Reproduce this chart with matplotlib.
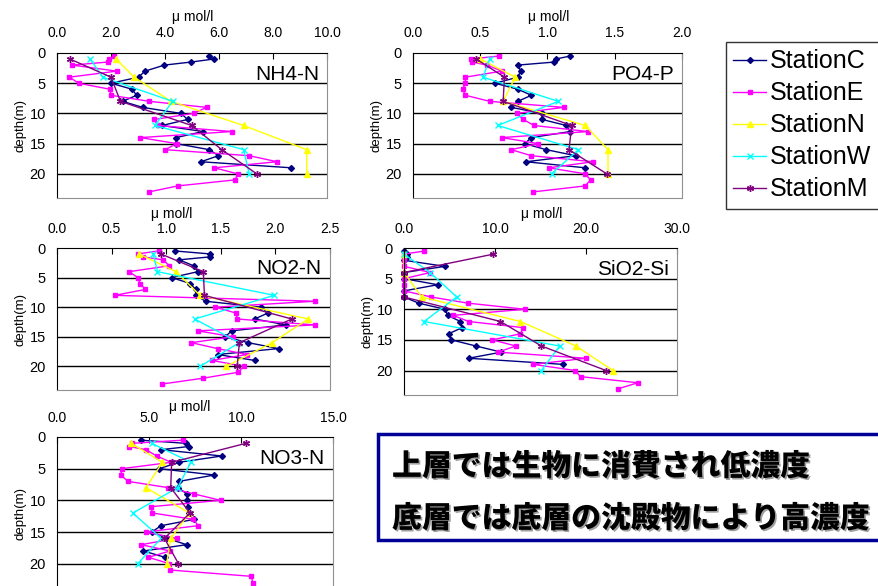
import matplotlib
matplotlib.use("Agg")
import matplotlib.pyplot as plt
import matplotlib.patheffects as pe
from matplotlib.patches import Rectangle
from matplotlib.ticker import FormatStrFormatter

plt.rcParams['font.family'] = ['Liberation Sans', 'DejaVu Sans']

# depths (m)
depth_C = [0.5, 1, 1.5, 2, 3, 4, 5, 6, 7, 8, 9, 10, 11, 12, 13, 14, 15, 16, 17, 18, 19]
depth_E = [0.5, 1, 1.5, 2, 3, 4, 5, 6, 7, 8, 9, 10, 11, 12, 13, 14, 15, 16, 17, 18, 19, 20, 21, 22, 23]
depth_NWM = [1, 4, 8, 12, 16, 20]

stations = ['StationC', 'StationE', 'StationN', 'StationW', 'StationM']

# NH4-N
nh4_C = [5.64, 5.8, 4.96, 3.98, 3.26, 3.02, 2.0, 2.78, 2.95, 2.43, 3.17, 4.59, 4.84, 3.89, 5.41, 4.41, 4.41, 5.64, 5.98, 5.33, 8.67]
nh4_E = [2.12, 1.91, 1.88, 0.56, 2.21, 0.46, 0.8, 1.96, 2.0, 3.42, 5.54, 5.06, 3.6, 3.73, 6.48, 3.09, 4.43, 4.01, 7.12, 8.15, 5.83, 6.69, 6.6, 4.47, 3.4]
nh4_N = [2.19, 2.86, 4.22, 6.91, 9.25, 9.25]
nh4_W = [1.23, 1.69, 4.28, 3.63, 6.91, 7.12]
nh4_M = [0.48, 2.0, 2.35, 4.99, 6.1, 7.4]

# PO4-P
po4_C = [1.17, 1.06, 1.05, 0.78, 0.8, 0.78, 0.61, 0.78, 0.88, 0.78, 0.73, 0.96, 0.96, 1.14, 1.17, 0.88, 0.83, 0.99, 1.21, 0.84, 1.28]
po4_E = [0.64, 0.43, 0.44, 0.55, 0.66, 0.39, 0.39, 0.37, 0.39, 0.57, 1.12, 0.77, 0.82, 0.9, 1.3, 0.66, 0.93, 0.73, 0.88, 1.34, 1.01, 1.28, 1.32, 1.28, 0.89]
po4_N = [0.5, 0.76, 0.67, 1.28, 1.45, 1.45]
po4_W = [0.57, 0.52, 1.08, 0.63, 1.23, 1.03]
po4_M = [0.47, 0.68, 0.67, 1.18, 1.16, 1.44]

# NO2-N
no2_C = [1.08, 1.4, 1.4, 1.12, 1.25, 1.29, 1.05, 1.22, 1.27, 1.27, 1.36, 1.87, 1.93, 1.81, 2.1, 1.6, 1.54, 1.75, 2.03, 1.47, 1.81]
no2_E = [0.93, 0.74, 0.79, 0.97, 1.03, 0.66, 0.74, 0.76, 0.81, 0.53, 2.36, 1.45, 1.64, 1.65, 2.36, 1.29, 1.61, 1.23, 1.47, 1.74, 1.42, 1.71, 1.66, 1.34, 0.96]
no2_N = [0.75, 1.09, 1.31, 2.3, 1.97, 1.55]
no2_W = [0.88, 0.92, 1.99, 1.26, 1.67, 1.31]
no2_M = [0.95, 1.34, 1.35, 2.15, 1.67, 1.65]

# SiO2-Si
sio2_C = [0.0, 0.3, 0.3, 0.0, 4.5, 0.0, 0.0, 3.7, 0.0, 0.0, 1.6, 4.5, 4.8, 6.2, 6.4, 4.9, 5.2, 7.9, 10.7, 7.1, 17.5]
sio2_E = [2.2, 0, 0, 0, 0, 2.9, 0, 0, 0, 3.0, 7.0, 13.3, 5.4, 7.1, 13.1, 12.8, 9.7, 12.3, 10.3, 20.0, 14.2, 18.8, 19.4, 25.7, 23.5]
sio2_N = [0, 0, 1.95, 12.8, 18.9, 22.95]
sio2_W = [0, 2.86, 5.8, 2.2, 17.1, 15.1]
sio2_M = [9.83, 0, 0, 10.6, 15.1, 22.2]

# NO3-N
no3_C = [4.55, 7.0, 7.17, 5.66, 8.95, 6.63, 5.55, 8.55, 6.65, 6.56, 7.08, 7.08, 7.1, 7.19, 7.46, 5.66, 5.15, 5.96, 7.05, 4.7, 5.87]
no3_E = [6.83, 4.07, 3.92, 4.83, 5.42, 6.2, 3.52, 3.47, 3.85, 6.05, 7.46, 8.89, 5.11, 5.19, 7.4, 7.68, 4.83, 6.5, 4.57, 6.14, 4.97, 6.11, 6.14, 10.57, 10.63]
no3_N = [4.03, 5.73, 4.83, 7.19, 6.18, 5.96]
no3_W = [5.15, 7.27, 6.56, 4.12, 5.66, 4.39]
no3_M = [10.27, 6.23, 6.18, 7.23, 5.84, 6.6]

W, H = 879, 586
fig = plt.figure(figsize=(W / 100, H / 100), dpi=100)

styles = {
    'StationC': dict(color='#000080', marker='D', ms=3),
    'StationE': dict(color='#FF00FF', marker='s', ms=3),
    'StationN': dict(color='#FFFF00', marker='^', ms=4),
    'StationW': dict(color='#00FFFF', marker='x', ms=4, mew=1),
    'StationM': dict(color='#800080', marker=(6, 2, 0), ms=5, mew=1),
}


def px_axes(left, right, top, bottom):
    return fig.add_axes([left / W, 1 - bottom / H, (right - left) / W, (bottom - top) / H])


# name, data, xmax, xstep, pixel box (left, right, top, bottom), unit label position
panels = [
    ('NH4-N', [nh4_C, nh4_E, nh4_N, nh4_W, nh4_M], 10, 2, (57, 327, 53, 198), (193, 17)),
    ('PO4-P', [po4_C, po4_E, po4_N, po4_W, po4_M], 2, 0.5, (413, 682, 53, 198), (549, 17)),
    ('NO2-N', [no2_C, no2_E, no2_N, no2_W, no2_M], 2.5, 0.5, (57, 330, 248, 390), (172, 214)),
    ('SiO2-Si', [sio2_C, sio2_E, sio2_N, sio2_W, sio2_M], 30, 10, (404, 677, 248, 395), (542, 214)),
    ('NO3-N', [no3_C, no3_E, no3_N, no3_W, no3_M], 15, 5, (57, 333, 437, 589), (190, 407)),
]

handles = []
for name, data, xmax, xstep, box, lab in panels:
    ax = px_axes(*box)
    depths = [depth_C, depth_E, depth_NWM, depth_NWM, depth_NWM]
    hs = []
    for st, d, vals in zip(stations, depths, data):
        h, = ax.plot(vals, d, lw=1, label=st, clip_on=False, **styles[st])
        hs.append(h)
    if not handles:
        handles = hs
    ax.set_xlim(0, xmax)
    ax.set_ylim(24, 0)
    ticks = [i * xstep for i in range(int(round(xmax / xstep)) + 1)]
    ax.set_xticks(ticks)
    ax.xaxis.set_major_formatter(FormatStrFormatter('%.1f'))
    ax.xaxis.tick_top()
    ax.set_yticks([0, 5, 10, 15, 20])
    for yv in [5, 10, 15, 20]:
        ax.axhline(yv, color='black', lw=1, zorder=0)
    ax.tick_params(axis='x', direction='in', length=4, pad=9, labelsize=10)
    ax.tick_params(axis='y', direction='in', length=0, pad=8, labelsize=10.5)
    ax.set_ylabel('depth(m)', fontsize=9.5, labelpad=2)
    ax.spines['top'].set_color('black')
    ax.spines['left'].set_color('black')
    ax.spines['right'].set_color('#909090')
    ax.spines['bottom'].set_color('#909090')
    ax.text(0.97, 0.92, name, transform=ax.transAxes, ha='right', va='top', fontsize=15)
    fig.text(lab[0] / W, 1 - lab[1] / H, 'μ mol/l', ha='center', va='center', fontsize=10)

leg = fig.legend(handles=handles, loc='upper left', bbox_to_anchor=(726 / W, 1 - 42 / H),
                 fontsize=18, frameon=True, fancybox=False, handlelength=1.3,
                 handletextpad=0.15, labelspacing=0.32, borderpad=0.3, borderaxespad=0)
leg.get_frame().set_edgecolor('black')
leg.get_frame().set_linewidth(1)

fig.patches.append(Rectangle((378 / W, 1 - 540 / H), (890 - 378) / W, (540 - 434) / H,
                             transform=fig.transFigure, facecolor='white',
                             edgecolor='#000099', lw=2.5))

shadow = [pe.withSimplePatchShadow(offset=(1.2, -1.2), shadow_rgbFace='#888888', alpha=0.8)]
lines = ['上層では生物に消費され低濃度', '底層では底層の沈殿物により高濃度']
for txt, yp in zip(lines, [466, 518]):
    fig.text(392 / W, 1 - yp / H, txt, ha='left', va='center', fontsize=21.5,
             fontweight='black', family=['Noto Sans CJK JP', 'DejaVu Sans'],
             path_effects=shadow)

fig.savefig('out.png', dpi=100)
